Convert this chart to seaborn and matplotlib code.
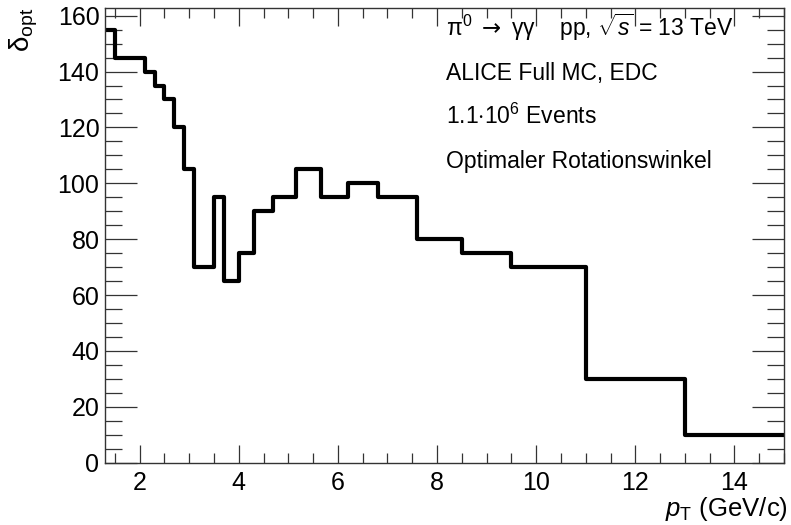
import matplotlib
matplotlib.use("Agg")
import matplotlib.pyplot as plt
from matplotlib.ticker import MultipleLocator
import numpy as np
import pandas as pd
import seaborn as sns

# pT bin edges (GeV/c) and optimal rotation angle per bin
bin_edges = [1.3, 1.5, 2.1, 2.3, 2.5, 2.7, 2.9, 3.1, 3.5, 3.7, 4.0, 4.3, 4.7,
             5.15, 5.65, 6.2, 6.8, 7.6, 8.5, 9.5, 11.0, 13.0, 15.0]
delta_opt = [155, 145, 140, 135, 130, 120, 105, 70, 95, 65, 75, 90, 95,
             105, 95, 100, 95, 80, 75, 70, 30, 10]

info_lines = [
    r"$\mathrm{\pi^0}\ \mathsf{\rightarrow}\ \mathrm{\gamma\gamma}$    pp, $\sqrt{s}$ = 13 TeV",
    "ALICE Full MC, EDC",
    r"1.1$\cdot$10$^{6}$ Events",
    "Optimaler Rotationswinkel",
]

sns.set_theme(style="ticks")
plt.rcParams["font.family"] = ["Liberation Sans", "DejaVu Sans"]
plt.rcParams["mathtext.fontset"] = "custom"
plt.rcParams["mathtext.rm"] = "Liberation Sans"
plt.rcParams["mathtext.it"] = "Liberation Sans:italic"
plt.rcParams["mathtext.bf"] = "Liberation Sans:bold"
plt.rcParams["mathtext.sf"] = "DejaVu Sans"
for key in ["text.color", "axes.labelcolor", "xtick.color", "ytick.color"]:
    plt.rcParams[key] = "black"

df = pd.DataFrame({
    "pt": bin_edges,
    "delta": delta_opt + [delta_opt[-1]],
})

fig = plt.figure(figsize=(7.91, 5.25), dpi=100)
ax = fig.add_axes([0.1327, 0.1187, 0.9912 - 0.1327, 0.9848 - 0.1187])

sns.lineplot(data=df, x="pt", y="delta", drawstyle="steps-post",
             estimator=None, sort=False, color="black", linewidth=3.0, ax=ax)

ax.set_xlim(1.3, 15.0)
ax.set_ylim(0, 162.75)

ax.xaxis.set_major_locator(MultipleLocator(2))
ax.xaxis.set_minor_locator(MultipleLocator(0.5))
ax.yaxis.set_major_locator(MultipleLocator(20))
ax.yaxis.set_minor_locator(MultipleLocator(5))

ax.tick_params(axis="both", which="both", direction="in", top=True, right=True,
               width=0.9, color="#333333")
ax.tick_params(axis="x", which="major", length=13, labelsize=18, pad=6)
ax.tick_params(axis="x", which="minor", length=7)
ax.tick_params(axis="y", which="major", length=23, labelsize=18, pad=4)
ax.tick_params(axis="y", which="minor", length=12)
for s in ax.spines.values():
    s.set_linewidth(1.0)
    s.set_color("#333333")

ax.set_xlabel(r"$p_{\mathrm{T}}$ (GeV/c)", fontsize=18.5, loc="right")
ax.xaxis.set_label_coords(1.006, -0.072)
ax.set_ylabel(r"$\mathrm{\delta}_{\mathrm{opt}}$", fontsize=20, loc="top")
ax.yaxis.set_label_coords(-0.095, 1.0)

for i, line in enumerate(info_lines):
    ax.text(0.502, 0.938 - i * 0.0965, line, transform=ax.transAxes,
            fontsize=16.5, ha="left", va="baseline")

fig.savefig("out.png", dpi=100)
